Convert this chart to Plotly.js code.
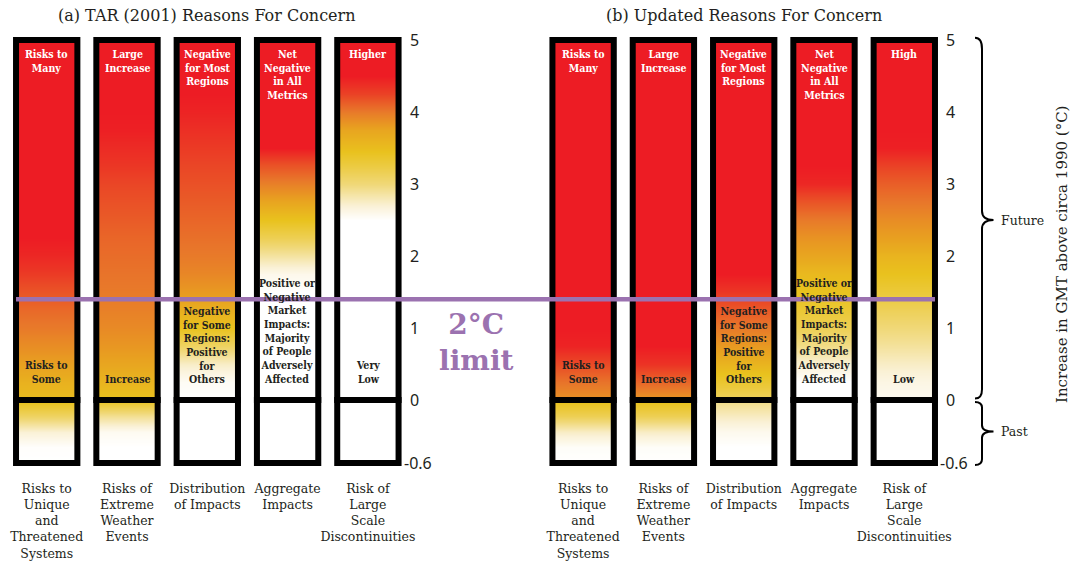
<!DOCTYPE html>
<html><head><meta charset="utf-8">
<script src="https://cdn.plot.ly/plotly-3.0.1.min.js"></script>
<style>html,body{margin:0;padding:0;background:#fff}</style>
</head><body><div id="chart" style="width:1075px;height:562px"></div>
<script>
// ---------- data ----------
const categories = [
  'Risks to<br>Unique<br>and<br>Threatened<br>Systems',
  'Risks of<br>Extreme<br>Weather<br>Events',
  'Distribution<br>of Impacts',
  'Aggregate<br>Impacts',
  'Risk of<br>Large<br>Scale<br>Discontinuities'
];
const panelTitles = ['(a) TAR (2001) Reasons For Concern', '(b) Updated Reasons For Concern'];
const tarTopLabels = ['Risks to<br>Many','Large<br>Increase','Negative<br>for Most<br>Regions','Net<br>Negative<br>in All<br>Metrics','Higher'];
const tarBottomLabels = ['Risks to<br>Some','Increase','Negative<br>for Some<br>Regions:<br>Positive<br>for<br>Others','Positive or<br>Negative<br>Market<br>Impacts:<br>Majority<br>of People<br>Adversely<br>Affected','Very<br>Low'];
const updTopLabels = ['Risks to<br>Many','Large<br>Increase','Negative<br>for Most<br>Regions','Net<br>Negative<br>in All<br>Metrics','High'];
const updBottomLabels = ['Risks to<br>Some','Increase','Negative<br>for Some<br>Regions:<br>Positive<br>for<br>Others','Positive or<br>Negative<br>Market<br>Impacts:<br>Majority<br>of People<br>Adversely<br>Affected','Low'];

// temperature levels (deg C above 1990) at which ember intensity is read
const futureTemps = [0,0.25,0.5,0.75,1,1.25,1.5,1.75,2,2.25,2.5,2.75,3,3.25,3.5,3.75,4,4.25,4.5,4.75,5];
const pastTemps = [-0.6,-0.45,-0.3,-0.15,0];

// ember intensity: 0 = white, 0.5 = yellow, 1 = red
const tarUnique    = [0.52,0.56,0.62,0.68,0.74,0.79,0.85,0.92,0.97,1,1,1,1,1,1,1,1,1,1,1,1];
const tarExtreme   = [0.5,0.55,0.6,0.65,0.69,0.72,0.74,0.76,0.78,0.8,0.83,0.86,0.89,0.93,0.96,0.99,1,1,1,1,1];
const tarDistrib   = [0,0.03,0.15,0.35,0.5,0.57,0.64,0.7,0.74,0.77,0.8,0.83,0.86,0.89,0.92,0.95,0.98,1,1,1,1];
const tarAggregate = [0,0,0,0,0,0,0,0.06,0.22,0.38,0.5,0.6,0.72,0.85,1,1,1,1,1,1,1];
const tarLarge     = [0,0,0,0,0,0,0,0,0,0,0,0.15,0.3,0.42,0.52,0.6,0.74,0.9,1,1,1];
const tarUniquePast    = [0,0.01,0.12,0.35,0.52];
const tarExtremePast   = [0,0,0.04,0.25,0.5];
const tarDistribPast   = [0,0,0,0,0];
const tarAggregatePast = [0,0,0,0,0];
const tarLargePast     = [0,0,0,0,0];

const updUnique    = [0.66,0.76,0.88,0.98,1,1,1,1,1,1,1,1,1,1,1,1,1,1,1,1,1];
const updExtreme   = [0.64,0.8,0.94,1,1,1,1,1,1,1,1,1,1,1,1,1,1,1,1,1,1];
const updDistrib   = [0.36,0.46,0.55,0.64,0.74,0.84,0.93,1,1,1,1,1,1,1,1,1,1,1,1,1,1];
const updAggregate = [0,0,0.12,0.27,0.38,0.45,0.5,0.53,0.6,0.66,0.74,0.85,0.97,1,1,1,1,1,1,1,1];
const updLarge     = [0.04,0.08,0.15,0.23,0.3,0.37,0.44,0.5,0.55,0.62,0.68,0.75,0.82,0.9,0.99,1,1,1,1,1,1];
const updUniquePast    = [0,0.02,0.15,0.38,0.52];
const updExtremePast   = [0,0.02,0.15,0.38,0.52];
const updDistribPast   = [0,0,0.05,0.16,0.28];
const updAggregatePast = [0,0,0,0,0];
const updLargePast     = [0,0,0,0,0];

const limitTemp = 1.4;
const tempTicks = [0,1,2,3,4,5];
const tempTickText = ['0','1','2','3','4','5'];
const pastTicks = [-0.6];
const pastTickText = ['-0.6'];

// ---------- style / layout ----------
const W = 1075, H = 562;
const plotTop = 40, plotBottom = 463, zeroPx = 400;
const pastDomain = (plotBottom - zeroPx) / (plotBottom - plotTop);
const colStep = 80.3, firstColPx = 46.7;
const xMin = -firstColPx / colStep, xMax = (W - firstColPx) / colStep;
const pxToX = px => (px - firstColPx) / colStep;
const panelOffsets = [0, 6.68];
const halfWidth = 0.382;
const serif = 'DejaVu Serif, serif';
const labelFont = 'DejaVu Serif Condensed, DejaVu Serif, serif';
const ink = '#231f20';
const purple = '#9b72b0';
const colorscale = [
  [0,'#ffffff'],[0.12,'#faf1d6'],[0.3,'#f0d878'],[0.5,'#e9c21e'],
  [0.62,'#e8a020'],[0.75,'#e8772a'],[0.88,'#ea4a26'],[1,'#ed1c24']
];

const panels = [
  {future:[tarUnique,tarExtreme,tarDistrib,tarAggregate,tarLarge],
   past:[tarUniquePast,tarExtremePast,tarDistribPast,tarAggregatePast,tarLargePast],
   top:tarTopLabels, bottom:tarBottomLabels, yTop:'y', yBot:'y2'},
  {future:[updUnique,updExtreme,updDistrib,updAggregate,updLarge],
   past:[updUniquePast,updExtremePast,updDistribPast,updAggregatePast,updLargePast],
   top:updTopLabels, bottom:updBottomLabels, yTop:'y3', yBot:'y4'}
];

const traces = [], shapes = [], annotations = [];
const allCenters = [], allCats = [];
panels.forEach((P, p) => {
  categories.forEach((cat, i) => {
    const c = panelOffsets[p] + i;
    allCenters.push(c); allCats.push(cat);
    const xe = [c - halfWidth, c, c + halfWidth];
    traces.push({type:'heatmap', x:xe, y:futureTemps, z:P.future[i].map(v => [v, v]),
      xaxis:'x', yaxis:P.yTop, colorscale, zmin:0, zmax:1, zsmooth:'best', showscale:false, hoverinfo:'skip'});
    traces.push({type:'heatmap', x:xe, y:pastTemps, z:P.past[i].map(v => [v, v]),
      xaxis:'x', yaxis:P.yBot, colorscale, zmin:0, zmax:1, zsmooth:'best', showscale:false, hoverinfo:'skip'});
    shapes.push({type:'rect', xref:'x', yref:P.yTop + ' domain', x0:c - halfWidth, x1:c + halfWidth, y0:0, y1:1,
      line:{color:'#000', width:6}, fillcolor:'rgba(0,0,0,0)'});
    shapes.push({type:'rect', xref:'x', yref:P.yBot + ' domain', x0:c - halfWidth, x1:c + halfWidth, y0:0, y1:1,
      line:{color:'#000', width:6}, fillcolor:'rgba(0,0,0,0)'});
    annotations.push({xref:'x', yref:P.yTop, x:c, y:4.9, yanchor:'top', xanchor:'center', showarrow:false,
      text:'<b>' + P.top[i] + '</b>', font:{family:labelFont, size:10.5, color:'#ffffff'}, borderpad:0});
    annotations.push({xref:'x', yref:P.yTop, x:c, y:0.19, yanchor:'bottom', xanchor:'center', showarrow:false,
      text:'<b>' + P.bottom[i] + '</b>', font:{family:labelFont, size:10.5, color:ink}, borderpad:0});
  });
  annotations.push({xref:'x', yref:'paper', x:panelOffsets[p] + 2, y:(plotBottom - 16) / (plotBottom - plotTop),
    xanchor:'center', yanchor:'middle', showarrow:false, text:panelTitles[p], font:{family:serif, size:16, color:ink}});
});

// 2 degree limit line and label
shapes.push({type:'line', xref:'x', yref:'y', x0:panelOffsets[0] - halfWidth, x1:panelOffsets[1] + 4 + halfWidth,
  y0:limitTemp, y1:limitTemp, line:{color:purple, width:4.5}});
annotations.push({xref:'x', yref:'y', x:pxToX(476), y:0.8, xanchor:'center', yanchor:'middle', showarrow:false,
  text:'<b>2°C<br>limit</b>', font:{family:serif, size:28, color:purple}});

// braces
const bx = pxToX(982), btip = pxToX(993.5), bend = pxToX(975);
shapes.push({type:'path', xref:'x', yref:'y3 domain', line:{color:'#000', width:2},
  path:`M ${bend},1.006 Q ${bx},1.006 ${bx},0.975 L ${bx},0.525 Q ${bx},0.5 ${btip},0.5 Q ${bx},0.5 ${bx},0.475 L ${bx},0.03 Q ${bx},0.004 ${bend},0.004`});
shapes.push({type:'path', xref:'x', yref:'y4 domain', line:{color:'#000', width:2},
  path:`M ${bend},0.97 Q ${bx},0.97 ${bx},0.88 L ${bx},0.6 Q ${bx},0.5 ${btip},0.5 Q ${bx},0.5 ${bx},0.4 L ${bx},0.06 Q ${bx},-0.03 ${bend},-0.03`});
annotations.push({xref:'x', yref:'y3 domain', x:pxToX(999), y:0.5, xanchor:'left', yanchor:'middle', showarrow:false,
  text:'Future', font:{family:serif, size:12.5, color:ink}});
annotations.push({xref:'x', yref:'y4 domain', x:pxToX(999), y:0.5, xanchor:'left', yanchor:'middle', showarrow:false,
  text:'Past', font:{family:serif, size:12.5, color:ink}});
annotations.push({xref:'x', yref:'paper', x:pxToX(1062), y:(plotBottom - 255) / (plotBottom - plotTop),
  xanchor:'center', yanchor:'middle', showarrow:false, textangle:-90,
  text:'Increase in GMT above circa 1990 (°C)', font:{family:serif, size:15, color:ink}});

const tickFont = {family:'Noto Sans, sans-serif', size:16, color:ink};
function yAx(extra) {
  return Object.assign({showgrid:false, zeroline:false, showline:false, ticks:'', side:'right',
    anchor:'free', tickfont:tickFont, fixedrange:true}, extra);
}
const posA = 409 / W, posB = 945 / W, shiftPast = 6 / W;

const layout = {
  width:W, height:H, margin:{l:0, r:0, t:plotTop, b:H - plotBottom},
  paper_bgcolor:'#ffffff', plot_bgcolor:'rgba(0,0,0,0)', showlegend:false,
  xaxis:{range:[xMin, xMax], anchor:'y2', showgrid:false, zeroline:false, showline:false, ticks:'', tickangle:0,
    tickvals:allCenters, ticktext:allCats, tickfont:{family:serif, size:12.5, color:ink}, ticklabelstandoff:16, fixedrange:true},
  yaxis: yAx({domain:[pastDomain, 1], range:[0, 5], position:posA, tickvals:tempTicks, ticktext:tempTickText}),
  yaxis2: yAx({domain:[0, pastDomain], range:[-0.6, 0], position:posA - shiftPast, tickvals:pastTicks, ticktext:pastTickText}),
  yaxis3: yAx({overlaying:'y', range:[0, 5], position:posB, tickvals:tempTicks, ticktext:tempTickText}),
  yaxis4: yAx({overlaying:'y2', range:[-0.6, 0], position:posB - shiftPast, tickvals:pastTicks, ticktext:pastTickText}),
  shapes, annotations
};
Plotly.newPlot('chart', traces, layout, {displayModeBar:false, staticPlot:true});
</script></body></html>
